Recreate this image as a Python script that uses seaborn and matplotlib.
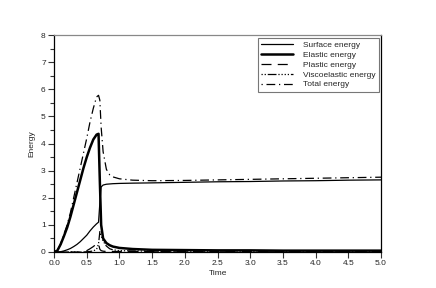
import pandas as pd
import seaborn as sns
import matplotlib.pyplot as plt
from matplotlib.ticker import MultipleLocator, FormatStrFormatter

time = [0.0, 0.05, 0.1, 0.15, 0.2, 0.25, 0.3, 0.35, 0.4, 0.45, 0.5, 0.55, 0.6, 0.65, 0.68,
        0.70, 0.72, 0.75, 0.8, 0.85, 0.9, 1.0, 1.2, 1.5, 2.0, 2.5, 3.0, 3.5, 4.0, 4.5, 5.0]
surface = [0, 0, 0.01, 0.04, 0.08, 0.13, 0.2, 0.28, 0.38, 0.5, 0.62, 0.78, 0.92, 1.04, 1.1,
           1.8, 2.4, 2.47, 2.5, 2.51, 2.52, 2.53, 2.54, 2.55, 2.57, 2.59, 2.6, 2.62, 2.63, 2.65, 2.66]
elastic = [0, 0.05, 0.28, 0.58, 0.9, 1.3, 1.75, 2.2, 2.65, 3.1, 3.5, 3.85, 4.15, 4.33, 4.36,
           2.6, 1.0, 0.5, 0.33, 0.25, 0.2, 0.15, 0.11, 0.08, 0.07, 0.06, 0.06, 0.05, 0.05, 0.05, 0.05]
plastic = [0, 0, 0, 0, 0, 0, 0, 0, 0, 0.01, 0.05, 0.12, 0.2, 0.3, 0.3,
           0.1, 0.05, 0.03, 0.02, 0.02, 0.02, 0.02, 0.02, 0.02, 0.02, 0.02, 0.02, 0.02, 0.02, 0.02, 0.02]
visco = [0, 0, 0, 0, 0, 0, 0, 0, 0, 0, 0.01, 0.02, 0.04, 0.1, 0.3,
         0.75, 0.6, 0.4, 0.22, 0.12, 0.08, 0.05, 0.04, 0.03, 0.03, 0.03, 0.03, 0.03, 0.03, 0.03, 0.03]
total = [0, 0.05, 0.3, 0.65, 1.0, 1.45, 2.0, 2.55, 3.1, 3.65, 4.2, 4.8, 5.3, 5.72, 5.78,
         5.6, 4.6, 3.7, 3.05, 2.85, 2.77, 2.7, 2.65, 2.63, 2.64, 2.66, 2.68, 2.7, 2.72, 2.74, 2.76]

series = [
    ('Surface energy', surface, '-', 0.9),
    ('Elastic energy', elastic, '-', 1.8),
    ('Plastic energy', plastic, (0, (8, 5)), 0.9),
    ('Viscoelastic energy', visco, (0, (1, 1.5, 1, 1.5, 7, 1.5, 1, 1.5, 1, 1.5)), 0.9),
    ('Total energy', total, (0, (1, 3, 7, 3)), 0.9),
]

sns.set_style('ticks')
plt.rcParams['font.family'] = ['Liberation Sans', 'DejaVu Sans']

fig = plt.figure(figsize=(4.36, 2.88), dpi=100)
ax = fig.add_axes([0.124, 0.125, 0.75, 0.753])

for name, values, ls, lw in series:
    df = pd.DataFrame({'Time': time, 'Energy': values})
    sns.lineplot(data=df, x='Time', y='Energy', ax=ax, color='black',
                 linestyle=ls, linewidth=lw, label=name)

ax.set_xlim(0, 5)
ax.set_ylim(0, 8)
ax.xaxis.set_major_locator(MultipleLocator(0.5))
ax.xaxis.set_major_formatter(FormatStrFormatter('%.1f'))
ax.yaxis.set_major_locator(MultipleLocator(1))
ax.yaxis.set_minor_locator(MultipleLocator(0.5))
ax.tick_params(axis='both', which='major', direction='out', length=4, width=0.8,
               labelsize=6, pad=2, color='#333333')
ax.tick_params(axis='y', which='minor', direction='out', length=3, width=0.8, color='#333333')
ax.set_xlabel('Time', fontsize=6, labelpad=2)
ax.set_ylabel('Energy', fontsize=6, labelpad=4)

for side in ['left', 'bottom', 'right']:
    ax.spines[side].set_color('black')
    ax.spines[side].set_linewidth(0.9)
ax.spines['top'].set_color('#888888')
ax.spines['top'].set_linewidth(0.9)

leg = ax.legend(loc='upper right', fontsize=6, frameon=True, fancybox=False,
                edgecolor='#777777', framealpha=1, handlelength=3.8,
                borderaxespad=0.3, labelspacing=0.25, handletextpad=1.2,
                borderpad=0.4)
leg.get_frame().set_linewidth(0.8)

fig.savefig('out.png', dpi=100)
